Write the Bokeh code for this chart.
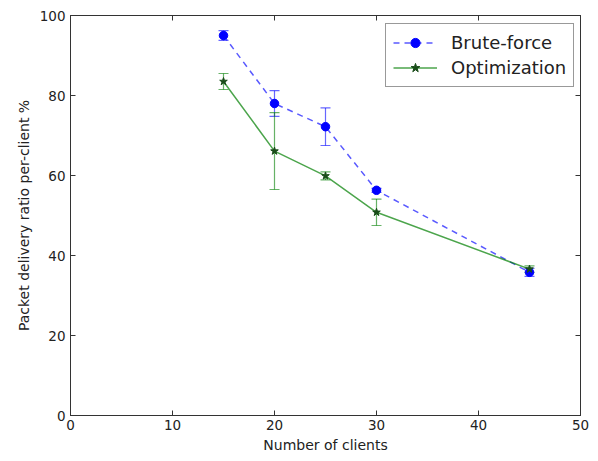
from bokeh.plotting import figure
from bokeh.models import (ColumnDataSource, Whisker, TeeHead, LinearAxis, Legend,
                          LegendItem, FixedTicker, Range1d, CustomJSTickFormatter)
from bokeh.embed import file_html
from bokeh.resources import INLINE

clients = [15, 20, 25, 30, 45]
brute = [95.0, 78.0, 72.2, 56.3, 35.8]
brute_err = [1.2, 3.2, 4.7, 0.5, 1.0]
optim = [83.5, 66.1, 59.9, 50.8, 36.6]
optim_err = [2.0, 9.6, 1.0, 3.3, 0.8]

x_ticks = [0, 10, 20, 30, 40, 50]
y_ticks = [0, 20, 40, 60, 80, 100]

BLUE = "#0000ff"
GREEN = "#007f00"
FONT = "DejaVu Sans"

p = figure(width=598, height=461, output_backend="svg", toolbar_location=None,
           x_range=Range1d(0, 50), y_range=Range1d(0, 100),
           min_border_left=70, min_border_right=18, min_border_top=15,
           min_border_bottom=46, x_axis_label="Number of clients",
           y_axis_label="Packet delivery ratio per-client %")
p.xgrid.visible = False
p.ygrid.visible = False
p.outline_line_color = "#333333"
p.outline_line_width = 1

for ax, ticks in ((p.xaxis[0], x_ticks), (p.yaxis[0], y_ticks)):
    ax.ticker = FixedTicker(ticks=ticks)
    ax.major_tick_in = 5
    ax.major_tick_out = 0
    ax.minor_tick_line_color = None
    ax.axis_line_color = "#333333"
    ax.major_tick_line_color = "#333333"
    ax.major_label_text_font = FONT
    ax.major_label_text_font_size = "13.5px"
    ax.major_label_text_color = "#222222"
    ax.axis_label_text_font = FONT
    ax.axis_label_text_font_size = "14px"
    ax.axis_label_text_font_style = "normal"
    ax.axis_label_text_color = "#222222"
p.xaxis[0].major_label_standoff = 4
p.xaxis[0].axis_label_standoff = 4
p.yaxis[0].major_label_standoff = 5
p.yaxis[0].axis_label_standoff = 5

blank = CustomJSTickFormatter(code="return ''")
top_ax = LinearAxis(ticker=FixedTicker(ticks=x_ticks), formatter=blank,
                    major_label_text_font_size="1px", major_label_standoff=0,
                    major_tick_in=5, major_tick_out=0, minor_tick_line_color=None,
                    axis_line_color="#333333", major_tick_line_color="#333333")
right_ax = LinearAxis(ticker=FixedTicker(ticks=y_ticks), formatter=blank,
                      major_label_text_font_size="1px", major_label_standoff=0,
                      major_tick_in=5, major_tick_out=0, minor_tick_line_color=None,
                      axis_line_color="#333333", major_tick_line_color="#333333")
p.add_layout(top_ax, "above")
p.add_layout(right_ax, "right")

src_b = ColumnDataSource(dict(x=clients, y=brute,
                              lo=[v - e for v, e in zip(brute, brute_err)],
                              hi=[v + e for v, e in zip(brute, brute_err)]))
src_o = ColumnDataSource(dict(x=clients, y=optim,
                              lo=[v - e for v, e in zip(optim, optim_err)],
                              hi=[v + e for v, e in zip(optim, optim_err)]))

wb = Whisker(source=src_b, base="x", lower="lo", upper="hi",
             line_color=BLUE, line_alpha=0.6, line_width=1.2,
             upper_head=TeeHead(size=10, line_color=BLUE, line_alpha=0.6, line_width=1.2),
             lower_head=TeeHead(size=10, line_color=BLUE, line_alpha=0.6, line_width=1.2))
p.add_layout(wb)
lb = p.line("x", "y", source=src_b, line_color=BLUE, line_dash="6 5",
            line_width=1.5, line_alpha=0.65)
mb = p.scatter("x", "y", source=src_b, marker="circle", size=8.5,
               fill_color=BLUE, line_color=BLUE)

wo = Whisker(source=src_o, base="x", lower="lo", upper="hi",
             line_color=GREEN, line_alpha=0.6, line_width=1.2,
             upper_head=TeeHead(size=10, line_color=GREEN, line_alpha=0.6, line_width=1.2),
             lower_head=TeeHead(size=10, line_color=GREEN, line_alpha=0.6, line_width=1.2))
p.add_layout(wo)
lo_ = p.line("x", "y", source=src_o, line_color=GREEN, line_width=1.5, line_alpha=0.7)
mo = p.scatter("x", "y", source=src_o, marker="star", size=8,
               fill_color="#1a4d1a", line_color="#1a4d1a")

legend = Legend(items=[LegendItem(label="Brute-force", renderers=[lb, mb]),
                       LegendItem(label="Optimization", renderers=[lo_, mo])],
                location=(315, 328))
legend.label_text_font = FONT
legend.label_text_font_size = "18px"
legend.label_text_color = "#222222"
legend.glyph_width = 44
legend.glyph_height = 23
legend.label_standoff = 14
legend.padding = 7
legend.spacing = 2
legend.border_line_color = "#333333"
legend.border_line_width = 1
legend.margin = 0
p.add_layout(legend, "center")

open("out.html", "w").write(file_html(p, INLINE))
